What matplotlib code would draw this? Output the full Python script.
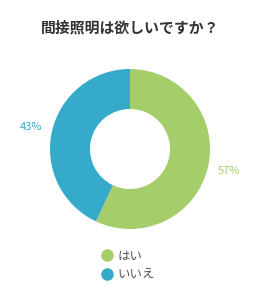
import matplotlib; matplotlib.use("Agg")
import matplotlib.pyplot as plt
from matplotlib.lines import Line2D

plt.rcParams["font.family"] = ["Noto Sans CJK JP", "DejaVu Sans"]

title = "間接照明は欲しいですか？"
labels = ["はい", "いいえ"]
values = [57, 43]
colors = ["#a5cd69", "#35aacb"]

fig = plt.figure(figsize=(2.6, 2.9), dpi=100)
ax = fig.add_axes([0, 0, 1, 1])

wedges, _, autotexts = ax.pie(values, colors=colors, startangle=90, counterclock=False,
                              center=(130, 141), radius=80, autopct="%.0f%%",
                              pctdistance=1.27, wedgeprops=dict(width=40, linewidth=0),
                              textprops=dict(fontsize=8), frame=True)
ax.axis("off")
ax.set_xlim(0, 260); ax.set_ylim(0, 290)
for t, c in zip(autotexts, colors):
    t.set_color(c)

ax.text(130, 263, title, ha="center", va="center", fontsize=10.7, weight="bold", color="#333333")

handles = [Line2D([], [], marker="o", ls="", markersize=8, color=c) for c in colors]
ax.legend(handles, labels, loc="center", bbox_to_anchor=(0.49, 0.085), frameon=False,
          fontsize=9, labelcolor="#555555", handletextpad=0.2, labelspacing=0.45,
          handlelength=1.2)

fig.savefig("out.png", dpi=100)
